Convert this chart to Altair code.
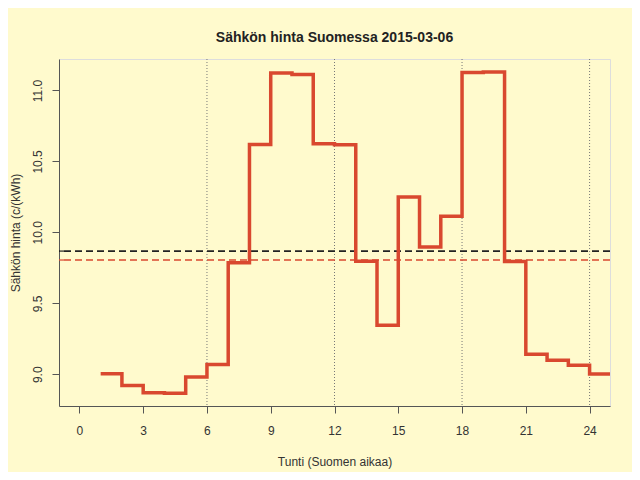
import altair as alt
import pandas as pd

hours = list(range(1, 26))
prices = [9.004, 8.92, 8.87, 8.866, 8.98, 9.068, 9.786, 10.62, 11.124, 11.113,
          10.624, 10.617, 9.796, 9.345, 10.249, 9.896, 10.113, 11.127, 11.131, 9.795,
          9.141, 9.099, 9.063, 9.002, 9.002]
ref_values = [9.868, 9.805]
ref_names = ["keskiarvo", "mediaani"]
ref_colors = ["#222222", "#d9482f"]
vlines = [6, 12, 18, 24]
xticks = [0, 3, 6, 9, 12, 15, 18, 21, 24]
yticks = [9.0, 9.5, 10.0, 10.5, 11.0]

df = pd.DataFrame({"h": hours, "p": prices})
ref = pd.DataFrame({"v": ref_values, "n": ref_names, "c": ref_colors})
vl = pd.DataFrame({"x": vlines})

xs = alt.Scale(domain=[-0.96, 24.96], nice=False, zero=False)
ys = alt.Scale(domain=[8.776, 11.222], nice=False, zero=False)

xaxis = alt.Axis(values=xticks, title="Tunti (Suomen aikaa)", grid=False,
                 tickSize=7, labelPadding=12, titlePadding=20,
                 labelFontSize=12, titleFontSize=12, labelColor="#333333",
                 titleColor="#333333", domainColor="#555555", tickColor="#555555",
                 titleFontWeight="normal")
yaxis = alt.Axis(values=yticks, format=".1f", title="Sähkön hinta (c/(kWh)", grid=False,
                 tickSize=7, labelPadding=8, titlePadding=9, labelAngle=270,
                 labelAlign="center", labelBaseline="bottom",
                 labelFontSize=12, titleFontSize=12, labelColor="#333333",
                 titleColor="#333333", domainColor="#555555", tickColor="#555555",
                 titleFontWeight="normal")

vrules = alt.Chart(vl).mark_rule(color="#777777", strokeDash=[1, 2], strokeWidth=1).encode(
    x=alt.X("x:Q", scale=xs, axis=xaxis)
)

hrules = alt.Chart(ref).mark_rule(strokeDash=[7, 4], strokeWidth=1.6).encode(
    y=alt.Y("v:Q", scale=ys, axis=yaxis),
    color=alt.Color("c:N", scale=None, legend=None),
)

rug = alt.Chart(ref).mark_rule(strokeWidth=1.2).encode(
    y=alt.Y("v:Q", scale=ys),
    x=alt.value(1), x2=alt.value(5),
    color=alt.Color("c:N", scale=None, legend=None),
)

line = alt.Chart(df).mark_line(interpolate="step-after", color="#d9482f",
                               strokeWidth=3.5, clip=True).encode(
    x=alt.X("h:Q", scale=xs, axis=xaxis),
    y=alt.Y("p:Q", scale=ys, axis=yaxis),
)

chart = alt.layer(vrules, hrules, rug, line).properties(
    width=551, height=347,
    title=alt.TitleParams("Sähkön hinta Suomessa 2015-03-06", fontSize=14,
                          fontWeight="bold", color="#222222", offset=14,
                          anchor="middle", font="Liberation Sans"),
    background="#fffacd",
    padding={"left": 51, "top": 51, "right": 22, "bottom": 66},
    autosize=alt.AutoSizeParams(type="none"),
).configure_view(
    stroke="#a39c8a", strokeWidth=1.5
).configure(
    font="Liberation Sans"
)

chart.save("out.html", embed_options={"renderer": "svg", "actions": False})
